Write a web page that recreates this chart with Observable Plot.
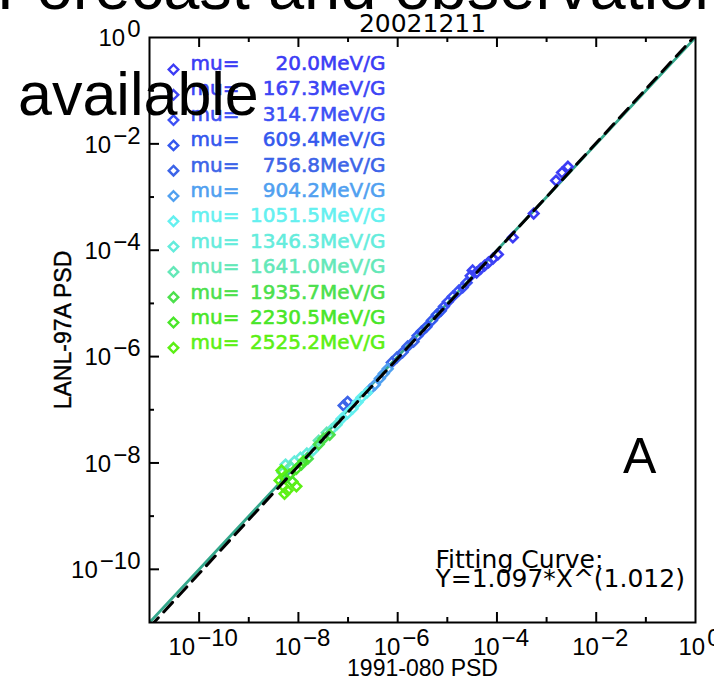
<!DOCTYPE html>
<html><head><meta charset="utf-8">
<script src="https://cdn.jsdelivr.net/npm/d3@7"></script>
<script src="https://cdn.jsdelivr.net/npm/@observablehq/plot@0.6"></script>
<style>body{margin:0;background:#fff}#wrap{width:714px;height:679px;overflow:hidden}</style>
</head><body><div id="wrap"></div>
<script>
// ---- data ----
const muValues = ["20.0","167.3","314.7","609.4","756.8","904.2","1051.5","1346.3","1641.0","1935.7","2230.5","2525.2"];
const muColors = ["#3c3cf5","#3c44f5","#3c50f5","#3458ee","#3c64e8","#50a0f0","#64f0f0","#64ecdc","#64e8b8","#4ce04c","#48e628","#5cf014"];
// mu index of each matched point
const pointMu = [0,0,0,0,0,0,0, 1,1,1,1,1,1, 2,2,2,2,2,2, 3,3,3,3,3,3, 4,4,4,4,4,4,4, 5,5,5,5,5, 6,6,6,6,6,6, 7,7,7,7,7,7,7, 8,8,8,8, 9,9,9,9,9, 10,10,10,10,10, 11,11,11,11,11,11];
// log10 PSD of 1991-080 (x) and LANL-97A (y)
const log080 = [-2.57,-2.69,-2.81,-3.26,-3.68,-3.98,-4.08, -4.17,-4.25,-4.33,-4.41,-4.53,-4.49, -4.61,-4.69,-4.77,-4.89,-4.99,-5.07, -5.13,-5.21,-5.31,-5.42,-5.52,-5.60, -5.68,-5.80,-5.90,-6.02,-6.12,-7.01,-7.09, -6.20,-6.28,-6.36,-6.46,-6.56, -6.62,-6.73,-6.81,-6.91,-7.01,-7.13, -7.23,-7.33,-7.71,-7.83,-7.96,-8.08,-8.26, -7.43,-7.59,-8.16,-8.32, -7.37,-7.49,-7.59,-7.81,-7.94, -7.90,-8.04,-8.18,-8.26,-8.12, -8.34,-8.38,-8.30,-8.22,-8.28,-8.04];
const log97A = [-2.43,-2.54,-2.69,-3.31,-3.76,-4.08,-4.16, -4.23,-4.29,-4.35,-4.42,-4.48,-4.38, -4.61,-4.70,-4.76,-4.87,-4.97,-5.06, -5.14,-5.21,-5.32,-5.44,-5.53,-5.61, -5.72,-5.81,-5.92,-6.02,-6.11,-6.85,-6.92, -6.23,-6.32,-6.41,-6.53,-6.62, -6.68,-6.77,-6.86,-6.98,-7.07,-7.17, -7.28,-7.37,-7.77,-7.82,-7.90,-7.97,-8.03, -7.43,-7.58,-8.07,-8.18, -7.47,-7.54,-7.65,-7.92,-8.03, -7.97,-8.11,-8.22,-8.29,-8.35, -8.14,-8.33,-8.44,-8.52,-8.58,-8.44];
const fitA = 1.097, fitB = 1.012;
const lineX = [1e-11, 1];
const xLabelExp = [-10,-8,-6,-4,-2,0];
const yLabelExp = [-10,-8,-6,-4,-2,0];
const majorTickExp = [-10,-8,-6,-4,-2];
const minorTickExp = [-9,-7,-5,-3,-1];
const titleText = "20021211";
const xTitle = "1991-080 PSD";
const yTitle = "LANL-97A PSD";
const fitLines = ["Fitting Curve:", "Y=1.097*X^(1.012)"];

// ---- layout ----
const W = 714, H = 679, ML = 149, MR = 19, MT = 37, MB = 57;
const PW = W - ML - MR, PH = H - MT - MB;
const AXF = '"Liberation Sans", Arial, Helvetica, sans-serif';
const DVF = '"DejaVu Sans", sans-serif';
const diamondSym = {draw(c, size){const r = Math.sqrt(size) * 0.62625; c.moveTo(0,-r); c.lineTo(r,0); c.lineTo(0,r); c.lineTo(-r,0); c.closePath();}};

const points = pointMu.map((k, i) => ({mu: muValues[k], x: 10 ** log080[i], y: 10 ** log97A[i]}));
const expStr = d => String(d).replace("-", "\u2212");

const legendFont = {fontFamily: DVF, fontSize: 20, lineAnchor: "middle", strokeWidth: 0.6};
const legendMarks = muValues.flatMap((mu, i) => [
  Plot.dot([mu], {frameAnchor: "top-left", dx: 24, dy: 32 + 25.3 * i, stroke: d => d, fill: "none", symbol: diamondSym, r: 4.3, strokeWidth: 2.4}),
  Plot.text([mu], {frameAnchor: "top-left", dx: 41, dy: 26 + 25.4 * i, text: () => "mu=", fill: d => d, stroke: d => d, textAnchor: "start", ...legendFont}),
  Plot.text([mu], {frameAnchor: "top-left", dx: 236, dy: 26 + 25.4 * i, text: d => d + "MeV/G", fill: d => d, stroke: d => d, textAnchor: "end", ...legendFont})
]);

const svg = Plot.plot({
  width: W, height: H,
  marginLeft: ML, marginRight: MR, marginTop: MT, marginBottom: MB,
  style: {background: "white", overflow: "visible"},
  x: {type: "log", domain: [1e-11, 1], axis: null},
  y: {type: "log", domain: [1e-11, 1], axis: null},
  color: {domain: muValues, range: muColors},
  marks: [
    Plot.line(lineX, {x: d => d, y: d => d, stroke: "#34a88c", strokeWidth: 2.8, clip: true}),
    Plot.dot(points, {x: "x", y: "y", stroke: "mu", fill: "none", symbol: diamondSym, r: 4.3, strokeWidth: 2.6}),
    Plot.line(lineX, {x: d => d, y: d => fitA * d ** fitB, stroke: "black", strokeWidth: 3, strokeDasharray: "13,8", clip: true}),
    Plot.frame({stroke: "black", strokeWidth: 2}),
    Plot.tickX(majorTickExp, {x: d => 10 ** d, insetTop: PH - 10, stroke: "black", strokeWidth: 2}),
    Plot.tickX(minorTickExp, {x: d => 10 ** d, insetTop: PH - 5, stroke: "black", strokeWidth: 2}),
    Plot.tickX(majorTickExp, {x: d => 10 ** d, insetBottom: PH - 10, stroke: "black", strokeWidth: 2}),
    Plot.tickX(minorTickExp, {x: d => 10 ** d, insetBottom: PH - 5, stroke: "black", strokeWidth: 2}),
    Plot.tickY(majorTickExp, {y: d => 10 ** d, insetRight: PW - 10, stroke: "black", strokeWidth: 2}),
    Plot.tickY(minorTickExp, {y: d => 10 ** d, insetRight: PW - 5, stroke: "black", strokeWidth: 2}),
    Plot.text(xLabelExp, {x: d => 10 ** d, text: expStr, frameAnchor: "bottom", dy: 25, dx: 4, textAnchor: "middle", lineAnchor: "middle", fontFamily: AXF, fontSize: 24, fill: "black", ariaLabel: () => "xtl"}),
    Plot.text(yLabelExp, {y: d => 10 ** d, text: expStr, frameAnchor: "left", dx: -9, dy: 1, textAnchor: "end", lineAnchor: "middle", fontFamily: AXF, fontSize: 24, fill: "black", ariaLabel: () => "ytl"}),
    Plot.text([xTitle], {text: d => d, frameAnchor: "bottom", dy: 46, textAnchor: "middle", lineAnchor: "middle", fontFamily: AXF, fontSize: 23, fill: "black"}),
    Plot.text([yTitle], {text: d => d, frameAnchor: "left", dx: -86, rotate: -90, textAnchor: "middle", lineAnchor: "middle", fontFamily: AXF, fontSize: 23, fill: "black", stroke: "black", strokeWidth: 0.4}),
    Plot.text([titleText], {text: d => d, frameAnchor: "top", dy: -14, textAnchor: "middle", lineAnchor: "middle", fontFamily: DVF, fontSize: 25, fill: "black"}),
    Plot.text([fitLines[0]], {text: d => d, frameAnchor: "bottom-left", dx: 286, dy: -63, textAnchor: "start", lineAnchor: "middle", fontFamily: DVF, fontSize: 25, fill: "black"}),
    Plot.text([fitLines[1]], {text: d => d, frameAnchor: "bottom-left", dx: 286, dy: -44, textAnchor: "start", lineAnchor: "middle", fontFamily: DVF, fontSize: 25, fill: "black"}),
    ...legendMarks
  ]
});

// superscript exponents on tick labels
d3.select(svg).selectAll('text[aria-label="xtl"], text[aria-label="ytl"], g[aria-label="xtl"] text, g[aria-label="ytl"] text').each(function() {
  const t = d3.select(this);
  const e = t.text();
  if (e.startsWith("10")) return;
  t.text("10");
  t.append("tspan").attr("dx", 2).attr("dy", -9).text(e);
});

// overlaid slide text
const s = d3.select(svg);
const over = (x, y, size, str) => s.append("text").attr("x", x).attr("y", y).attr("text-anchor", "start")
  .attr("font-family", AXF).attr("font-size", size).attr("fill", "black").text(str);
over(-3, 9, 65, "Forecast and observations");
over(18, 115, 61, "available");
over(623, 473, 50, "A");

document.getElementById("wrap").appendChild(svg);
</script>
</body></html>
